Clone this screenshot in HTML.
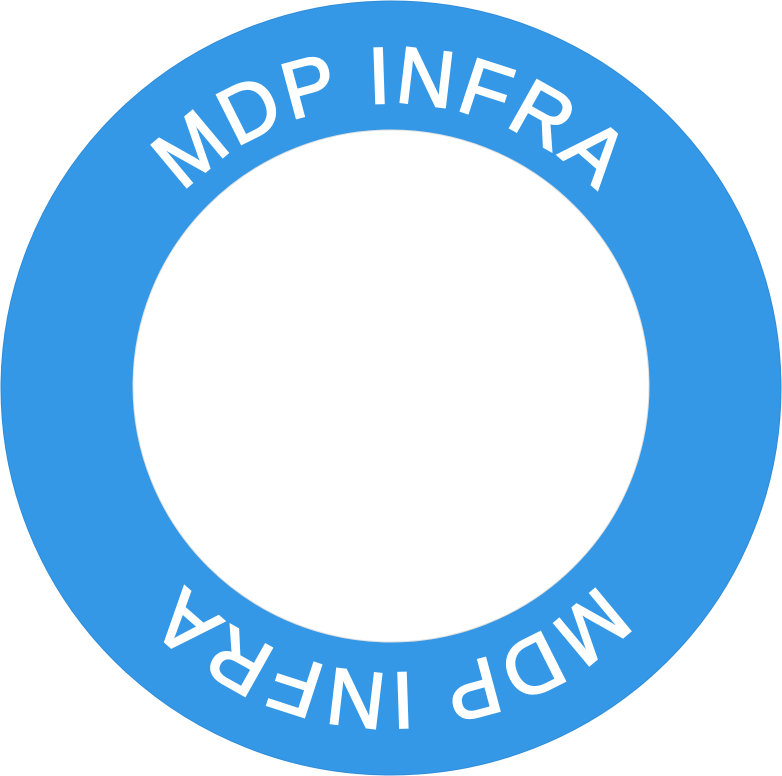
<!DOCTYPE html>
<html><head><meta charset="utf-8"><style>
html,body{margin:0;padding:0;background:#fff;}
svg{display:block;}
</style></head><body>
<svg width="782" height="776" viewBox="0 0 782 776" xmlns="http://www.w3.org/2000/svg">
<defs>
<path id="arc" d="M 106 388 A 285 285 0 0 1 676 388"/>
</defs>
<ellipse cx="391" cy="388" rx="390" ry="387" fill="#3498e6" stroke="#2f8cd8" stroke-width="1"/>
<ellipse cx="391" cy="386" rx="258" ry="256" fill="#fff" stroke="#e0e0e0" stroke-width="1"/>
<text font-family="Liberation Sans, sans-serif" font-size="80" fill="#fff" stroke="#fff" stroke-width="2" letter-spacing="3">
<textPath href="#arc" startOffset="50%" text-anchor="middle">MDP INFRA</textPath></text>
<g transform="rotate(180 391 388)">
<text font-family="Liberation Sans, sans-serif" font-size="80" fill="#fff" stroke="#fff" stroke-width="2" letter-spacing="3">
<textPath href="#arc" startOffset="50%" text-anchor="middle">MDP INFRA</textPath></text>
</g>
</svg>
</body></html>
